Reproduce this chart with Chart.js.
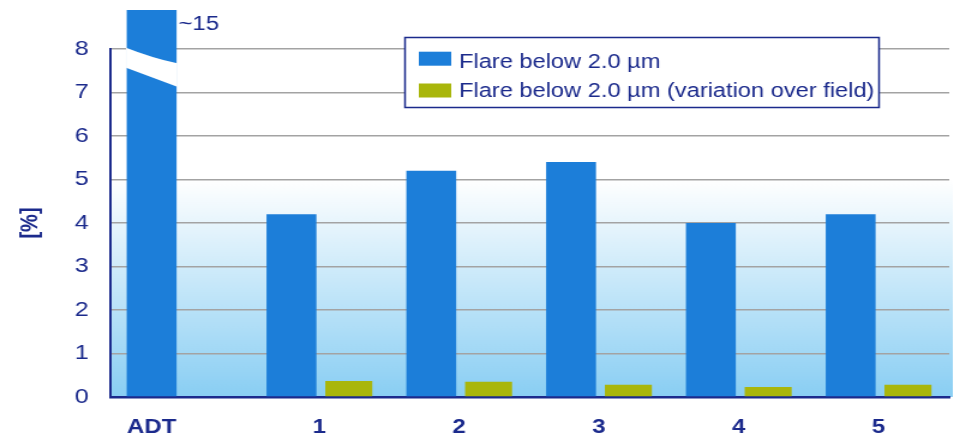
<!DOCTYPE html>
<html>
<head>
<meta charset="utf-8">
<script src="https://cdn.jsdelivr.net/npm/chart.js@4/dist/chart.umd.min.js"></script>
<style>
  html, body { margin: 0; padding: 0; background: #ffffff; overflow: hidden; }
  /* the chart is laid out on a narrower canvas and widened to the page */
  #wrap { width: 797px; height: 436px; transform: scaleX(1.2); transform-origin: 0 0; }
</style>
</head>
<body>
<div id="wrap"><canvas id="chart"></canvas></div>
<script>
// Categories and measured values
const categories = ['ADT', '1', '2', '3', '4', '5'];
const flareBelow2um = [15, 4.2, 5.2, 5.4, 4.0, 4.2];
const flareVariation = [null, 0.37, 0.35, 0.28, 0.23, 0.28];
const seriesLabels = ['Flare below 2.0 µm', 'Flare below 2.0 µm (variation over field)'];
const yAxisTitle = '[%]';
const yMin = 0, yMax = 8, yStep = 1;

const NAVY = '#1b2a8c';
const BLUE = '#1c7ed9';
const OLIVE = '#a9b60b';
const FONT = "'Liberation Sans', Arial, sans-serif";

Chart.defaults.font.family = FONT;

// Light sky gradient behind the plotting area
const plotBackground = {
  id: 'plotBackground',
  beforeDraw(chart) {
    const { ctx, chartArea: { left, right, top, bottom }, scales: { y } } = chart;
    const g = ctx.createLinearGradient(0, y.getPixelForValue(5), 0, bottom);
    g.addColorStop(0, '#ffffff');
    g.addColorStop(1, '#89cef3');
    ctx.save();
    ctx.fillStyle = g;
    ctx.fillRect(left, top, right - left + 3, bottom - top);
    ctx.restore();
  }
};

// Off-scale bar: cut with a white break and annotated with its value
const axisBreak = {
  id: 'axisBreak',
  afterDatasetsDraw(chart) {
    const { ctx, scales: { y }, chartArea } = chart;
    const bar = chart.getDatasetMeta(0).data[0];
    const value = chart.data.datasets[0].data[0];
    if (!bar || value <= yMax) return;
    const half = bar.width / 2;
    const x0 = bar.x - half - 0.5, x1 = bar.x + half + 0.5;
    ctx.save();
    ctx.fillStyle = '#ffffff';
    ctx.beginPath();
    ctx.moveTo(x0, y.getPixelForValue(8.03));
    ctx.quadraticCurveTo((x0 + x1) / 2, y.getPixelForValue(7.8), x1, y.getPixelForValue(7.67));
    ctx.lineTo(x1, y.getPixelForValue(7.13));
    ctx.lineTo(x0, y.getPixelForValue(7.57));
    ctx.closePath();
    ctx.fill();
    ctx.fillStyle = NAVY;
    ctx.font = '20px ' + FONT;
    ctx.textAlign = 'left';
    ctx.textBaseline = 'alphabetic';
    ctx.fillText('~' + value, x1 + 1, chartArea.top - 19.5);
    ctx.restore();
  }
};

// Category names centred under the bars drawn in each group
const groupLabels = {
  id: 'groupLabels',
  afterDraw(chart) {
    const { ctx, chartArea } = chart;
    ctx.save();
    ctx.fillStyle = NAVY;
    ctx.font = 'bold 20px ' + FONT;
    ctx.textAlign = 'center';
    ctx.textBaseline = 'alphabetic';
    chart.data.labels.forEach((label, i) => {
      let lo = Infinity, hi = -Infinity;
      chart.data.datasets.forEach((ds, d) => {
        const v = ds.data[i];
        if (v === null || v === undefined) return;
        const el = chart.getDatasetMeta(d).data[i];
        lo = Math.min(lo, el.x - el.width / 2);
        hi = Math.max(hi, el.x + el.width / 2);
      });
      const x = isFinite(lo) ? (lo + hi) / 2 : chart.scales.x.getPixelForValue(i);
      ctx.fillText(label, x, chartArea.bottom + 36);
    });
    ctx.restore();
  }
};

// Boxed legend inside the plot
const boxedLegend = {
  id: 'boxedLegend',
  afterDraw(chart) {
    const { ctx } = chart;
    const bx = 337.5, by = 37.5, bw = 395, bh = 70;
    ctx.save();
    ctx.fillStyle = '#ffffff';
    ctx.fillRect(bx, by, bw, bh);
    ctx.strokeStyle = NAVY;
    ctx.lineWidth = 1.5;
    ctx.strokeRect(bx, by, bw, bh);
    ctx.font = '19.7px ' + FONT;
    ctx.textAlign = 'left';
    ctx.textBaseline = 'alphabetic';
    const rows = [{ sy: 51.7, base: 67.7 }, { sy: 83.5, base: 96.9 }];
    chart.data.datasets.forEach((ds, i) => {
      const r = rows[i];
      ctx.fillStyle = ds.backgroundColor;
      ctx.fillRect(349, r.sy, 27, 14);
      ctx.fillStyle = NAVY;
      ctx.fillText(ds.label, 382.5, r.base);
    });
    ctx.restore();
  }
};

new Chart(document.getElementById('chart'), {
  type: 'bar',
  data: {
    labels: categories,
    datasets: [
      {
        label: seriesLabels[0],
        data: flareBelow2um,
        backgroundColor: BLUE,
        barPercentage: 0.87,
        categoryPercentage: 0.82,
        clip: { left: 0, top: 39, right: 0, bottom: 0 }
      },
      {
        label: seriesLabels[1],
        data: flareVariation,
        backgroundColor: OLIVE,
        barPercentage: 0.82,
        categoryPercentage: 0.82
      }
    ]
  },
  options: {
    responsive: true,
    maintainAspectRatio: false,
    devicePixelRatio: 1,
    animation: false,
    layout: { padding: { top: 49, right: 6, bottom: 0, left: 0 } },
    scales: {
      x: {
        type: 'category',
        grid: { display: false },
        border: { display: true, color: NAVY, width: 2.5 },
        ticks: { display: false },
        afterFit(scale) { scale.height = 39; }
      },
      y: {
        min: yMin,
        max: yMax,
        ticks: { stepSize: yStep, color: NAVY, font: { size: 21, family: FONT }, padding: 18 },
        grid: { color: '#a3a3a3', lineWidth: 1.5, drawTicks: false },
        border: { display: true, color: NAVY, width: 2 },
        title: {
          display: true,
          text: yAxisTitle,
          color: NAVY,
          font: { size: 20, weight: 'bold', family: FONT },
          padding: { top: 13, bottom: 0 }
        },
        afterFit(scale) { scale.width = 92; }
      }
    },
    plugins: {
      legend: { display: false },
      tooltip: { enabled: false }
    }
  },
  plugins: [plotBackground, axisBreak, groupLabels, boxedLegend]
});
</script>
</body>
</html>
